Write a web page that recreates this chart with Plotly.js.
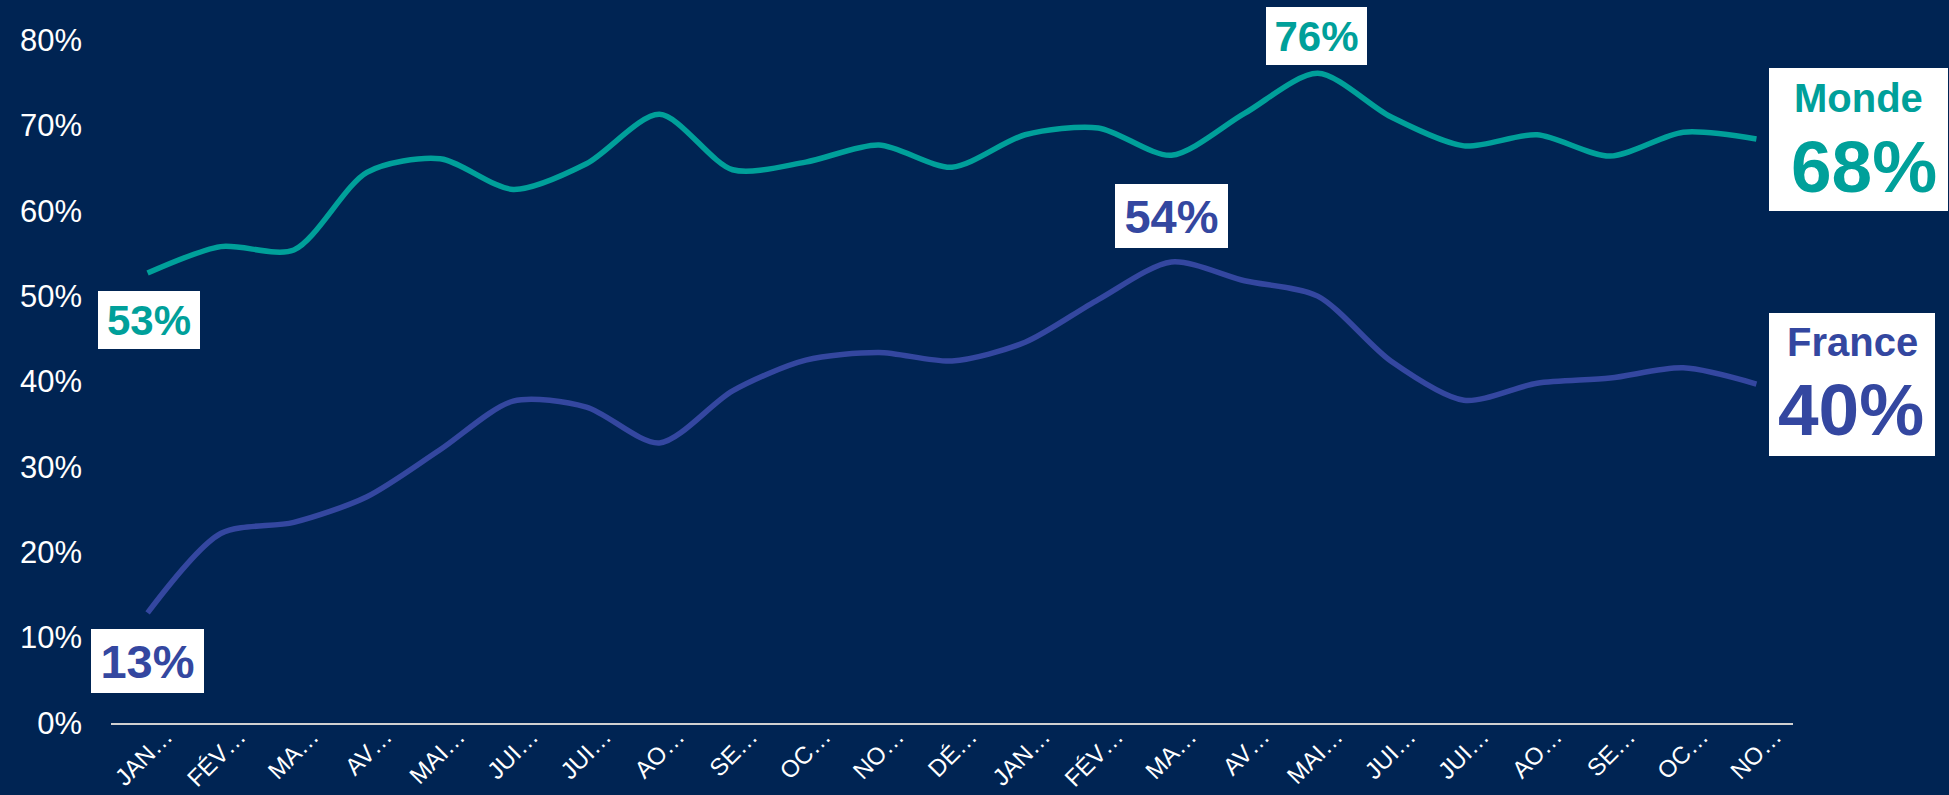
<!DOCTYPE html>
<html>
<head>
<meta charset="utf-8">
<script src="https://cdn.plot.ly/plotly-3.0.1.min.js"></script>
<style>
  html, body { margin: 0; padding: 0; background: #002453; }
  #chart { width: 1949px; height: 795px; }
</style>
</head>
<body>
<div id="chart"></div>
<script>
// Month tick labels (truncated, as in the source)
const monthLabels = ["JAN…","FÉV…","MA…","AV…","MAI…","JUI…","JUI…","AO…","SE…","OC…","NO…","DÉ…",
                     "JAN…","FÉV…","MA…","AV…","MAI…","JUI…","JUI…","AO…","SE…","OC…","NO…"];
const monthIndex = monthLabels.map((_, i) => i);

// Series values (share)
const monde  = [0.527, 0.558, 0.554, 0.645, 0.661, 0.625, 0.655, 0.713, 0.648, 0.657, 0.677, 0.651,
                0.689, 0.697, 0.665, 0.714, 0.761, 0.710, 0.676, 0.689, 0.664, 0.692, 0.684];
const france = [0.129, 0.222, 0.235, 0.265, 0.320, 0.377, 0.370, 0.328, 0.389, 0.425, 0.434, 0.424,
                0.446, 0.496, 0.540, 0.518, 0.500, 0.424, 0.378, 0.398, 0.404, 0.416, 0.397];

const seriesNames = ["Monde", "France"];
const yTickVals = [0, 0.1, 0.2, 0.3, 0.4, 0.5, 0.6, 0.7, 0.8];

const BG = "#002453";
const TEAL = "#00A09A";
const BLUE = "#3447A0";
const FONT = "Liberation Sans, Arial, sans-serif";

const pct = v => Math.round(v * 100) + "%";
const last = monthIndex.length - 1;

const traces = [
  { x: monthIndex, y: monde, name: seriesNames[0], type: "scatter", mode: "lines",
    line: { color: TEAL, width: 5.5, shape: "spline", smoothing: 0.8 }, hoverinfo: "skip" },
  { x: monthIndex, y: france, name: seriesNames[1], type: "scatter", mode: "lines",
    line: { color: BLUE, width: 5.5, shape: "spline", smoothing: 0.8 }, hoverinfo: "skip" }
];

function boxLabel(xi, yv, color, size, w, h, xs, ys) {
  return { x: xi, y: yv, xref: "x", yref: "y", text: "<b>" + pct(yv) + "</b>", showarrow: false,
    font: { family: FONT, size: size, color: color }, bgcolor: "#FFFFFF", borderpad: 0, borderwidth: 0,
    width: w, height: h, xanchor: "center", yanchor: "middle", xshift: xs, yshift: ys };
}
function blankBox(xi, yv, w, h, xs, ys) {
  return { x: xi, y: yv, xref: "x", yref: "y", text: " ", showarrow: false,
    font: { family: FONT, size: 10, color: "#FFFFFF" }, bgcolor: "#FFFFFF", borderpad: 0, borderwidth: 0,
    width: w, height: h, xanchor: "left", yanchor: "middle", xshift: xs, yshift: ys };
}
function plainLabel(xi, yv, text, color, size, xs, ys) {
  return { x: xi, y: yv, xref: "x", yref: "y", text: "<b>" + text + "</b>", showarrow: false,
    font: { family: FONT, size: size, color: color }, xanchor: "center", yanchor: "middle",
    xshift: xs, yshift: ys };
}

const iMaxMonde = monde.indexOf(Math.max(...monde));
const iMaxFrance = france.indexOf(Math.max(...france));

const annotations = [
  boxLabel(0, monde[0], TEAL, 42, 102, 58, 1, -47),
  boxLabel(0, france[0], BLUE, 47, 113, 64, 0, -48),
  boxLabel(iMaxFrance, france[iMaxFrance], BLUE, 47, 113, 64, 0, 46),
  boxLabel(iMaxMonde, monde[iMaxMonde], TEAL, 42, 101, 58, -1, 37),
  blankBox(last, monde[last], 179, 143, 13, 0),
  blankBox(last, france[last], 166, 143, 13, 0),
  plainLabel(last, monde[last], seriesNames[0], TEAL, 40, 102, 41),
  plainLabel(last, monde[last], pct(monde[last]), TEAL, 73, 108, -27),
  plainLabel(last, france[last], seriesNames[1], BLUE, 40, 96, 42),
  plainLabel(last, france[last], pct(france[last]), BLUE, 73, 95, -25)
];

const layout = {
  width: 1949, height: 795,
  paper_bgcolor: BG, plot_bgcolor: BG,
  margin: { l: 111, r: 156, t: 40, b: 72, pad: 0 },
  showlegend: false,
  font: { family: FONT, color: "#FFFFFF" },
  xaxis: {
    range: [-0.5, 22.5], tickmode: "array", tickvals: monthIndex, ticktext: monthLabels,
    tickangle: -45, tickfont: { family: FONT, size: 24, color: "#FFFFFF" },
    showgrid: false, zeroline: false, showline: true, linecolor: "#D0D0D0", linewidth: 2,
    ticks: "", ticklabelshift: 18, ticklabelstandoff: -12, automargin: false, fixedrange: true
  },
  yaxis: {
    range: [0, 0.8], tickmode: "array", tickvals: yTickVals, tickformat: ".0%",
    tickfont: { family: FONT, size: 31, color: "#FFFFFF" },
    showgrid: false, zeroline: false, showline: false, ticks: "", ticklabelstandoff: 28,
    automargin: false, fixedrange: true
  },
  annotations: annotations
};

Plotly.newPlot("chart", traces, layout, { displayModeBar: false, staticPlot: true });
</script>
</body>
</html>
